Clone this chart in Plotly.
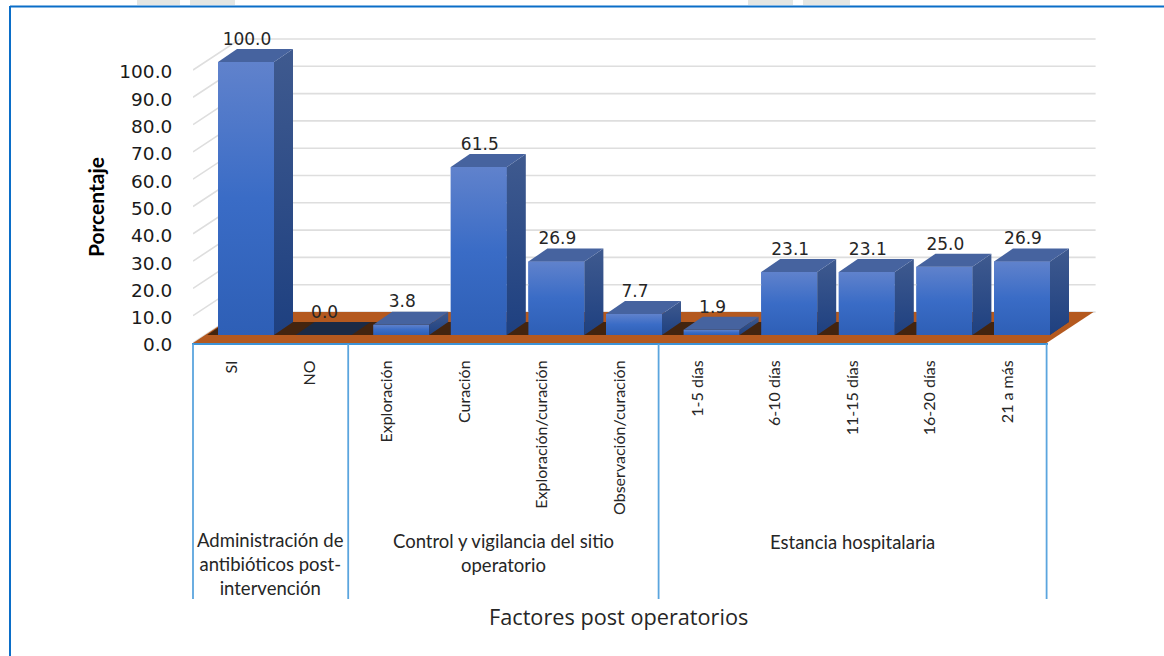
import plotly.graph_objects as go

categories = ["SI", "NO", "Exploración", "Curación", "Exploración/curación", "Observación/curación",
              "1-5 días", "6-10 días", "11-15 días", "16-20 días", "21 a más"]
values = [100.0, 0.0, 3.8, 61.5, 26.9, 7.7, 1.9, 23.1, 23.1, 25.0, 26.9]
y_ticks = [0, 10, 20, 30, 40, 50, 60, 70, 80, 90, 100]
groups = ["Administración de<br>antibióticos post-<br>intervención",
          "Control y vigilancia del sitio<br>operatorio",
          "Estancia hospitalaria"]
group_edges = [0, 2, 6, 11]

# Page geometry
W, H = 1164, 656
L, R, T, B = 193, 1100, 30, 343
PX_X = 77.6
PX_Y = 2.73
ux = lambda p: p / PX_X
uy = lambda p: p / PX_Y
x0 = -0.5
xr = x0 + (R - L) / PX_X
yr = (B - T) / PX_Y
n = len(categories)
xend = x0 + n

# Depth of the floor/wall and of the bars
WDX, WDY = ux(47), uy(31)
BSX, BSY = ux(14.2), uy(8)      # position of the bar front within the floor
BDX, BDY = ux(19), uy(13)       # bar depth
BW = ux(56)

TXT = "#262626"
fig = go.Figure()


def poly(xs, ys, color=None, grad=None):
    kw = dict(x=xs + xs[:1], y=ys + ys[:1], mode="none", fill="toself", hoverinfo="skip",
              showlegend=False, cliponaxis=False)
    if grad:
        kw["fillgradient"] = dict(type="vertical", colorscale=grad)
    else:
        kw["fillcolor"] = color
    fig.add_trace(go.Scatter(**kw))


# Wall gridlines
for t in y_ticks:
    fig.add_trace(go.Scatter(x=[x0, x0 + WDX, xend + WDX + ux(2)], y=[t, t + WDY, t + WDY], mode="lines",
                             line=dict(color="#DEDEDE", width=1.6), hoverinfo="skip",
                             showlegend=False, cliponaxis=False))

# Floor
poly([x0, xend, xend + WDX, x0 + WDX], [0, 0, WDY, WDY], color="#B4591F")
poly([x0 + BSX, xend + ux(3), xend + ux(3) + BDX, x0 + BSX + BDX],
     [BSY, BSY, BSY + BDY, BSY + BDY], color="#43240F")

# Bars
for i, v in enumerate(values):
    left = i + BSX - BW / 2
    right = left + BW
    bot = BSY
    top = BSY + v
    fig.add_trace(go.Bar(x=[i + BSX], y=[v], base=[BSY], width=[BW], marker=dict(color="#3F6CC2", line_width=0),
                         hoverinfo="skip", showlegend=False))
    if v > 0:
        poly([left, right, right, left], [bot, bot, top, top],
             grad=[[0, "#2E5FB6"], [0.5, "#3A6CC6"], [1, "#6082CC"]])
        poly([right, right + BDX, right + BDX, right], [bot, bot + BDY, top + BDY, top],
             grad=[[0, "#1E4080"], [1, "#3F5A8F"]])
    poly([left, right, right + BDX, left + BDX], [top, top, top + BDY, top + BDY],
         color="#46639F" if v > 0 else "#1B2A45")

# Value labels
fig.add_trace(go.Scatter(x=[i + BSX + ux(1) for i in range(n)],
                         y=[v + BSY + BDY for v in values],
                         mode="text", text=[f"{v:.1f}" for v in values], textposition="top center",
                         textfont=dict(family="DejaVu Sans", size=17, color=TXT),
                         hoverinfo="skip", showlegend=False, cliponaxis=False))


def py(p):
    return (B - p) / (B - T)


def px(p):
    return (p - L) / (R - L)


# Multi-level axis rules
rule = "#5BA5DE"
shapes = [dict(type="line", xref="paper", yref="paper", x0=px(192), x1=px(1048), y0=py(344), y1=py(344),
               line=dict(color="#3E93D6", width=2.2))]
for e in group_edges:
    xp = L + e * PX_X
    shapes.append(dict(type="line", xref="paper", yref="paper", x0=px(xp), x1=px(xp), y0=py(344), y1=py(599),
                       line=dict(color=rule, width=1.8)))
# Page frame and the clipped remains above it
shapes += [
    dict(type="line", xref="paper", yref="paper", x0=px(10), x1=px(W), y0=py(6.5), y1=py(6.5),
         line=dict(color="#0B6EC8", width=2)),
    dict(type="line", xref="paper", yref="paper", x0=px(10), x1=px(10), y0=py(6), y1=py(H),
         line=dict(color="#0B6EC8", width=2)),
]
for a, b in [(137, 180), (190, 235), (748, 793), (803, 850)]:
    shapes.append(dict(type="rect", xref="paper", yref="paper", x0=px(a), x1=px(b),
                       y0=py(0), y1=py(5), fillcolor="#E4E6E3", line_width=0))

annotations = []
centres_y = [564, 553, 542]
for k, g in enumerate(groups):
    annotations.append(dict(x=(group_edges[k] + group_edges[k + 1]) / 2 + x0, xref="x",
                            y=py(centres_y[k]), yref="paper", text=g, showarrow=False, align="center",
                            yanchor="middle", xanchor="center",
                            font=dict(family="Lato", size=18.5, color=TXT)))
annotations.append(dict(x=px(618.5), xref="paper", y=py(616), yref="paper",
                        text="Factores post operatorios", showarrow=False, xanchor="center", yanchor="middle",
                        font=dict(family="Open Sans", size=21.7, color=TXT)))
annotations.append(dict(x=px(95), xref="paper", y=py(207), yref="paper", text="<b>Porcentaje</b>",
                        showarrow=False, textangle=-90, xanchor="center", yanchor="middle",
                        font=dict(family="Lato", size=21, color="#000000")))

fig.update_layout(
    width=W, height=H, autosize=False,
    margin=dict(l=L, r=W - R, t=T, b=H - B),
    paper_bgcolor="white", plot_bgcolor="rgba(0,0,0,0)",
    showlegend=False, barmode="overlay",
    shapes=shapes, annotations=annotations,
    xaxis=dict(range=[x0, xr], tickmode="array", tickvals=list(range(n)), ticktext=categories,
               tickangle=-90, showgrid=False, zeroline=False, showline=False, ticks="outside", ticklen=10,
               tickcolor="rgba(0,0,0,0)", automargin=False,
               tickfont=dict(family="Lato", size=16, color=TXT)),
    yaxis=dict(range=[0, yr], tickmode="array", tickvals=y_ticks, ticktext=[f"{t:.1f}" for t in y_ticks],
               showgrid=False, zeroline=False, showline=False, ticks="outside", ticklen=16,
               tickcolor="rgba(0,0,0,0)", automargin=False, ticklabelshift=2,
               tickfont=dict(family="DejaVu Sans", size=18.5, color="#1A1A1A")),
)
fig.write_html("out.html", config={"displayModeBar": False},
               post_script="document.body.style.margin='0';document.documentElement.style.overflow='hidden';")
